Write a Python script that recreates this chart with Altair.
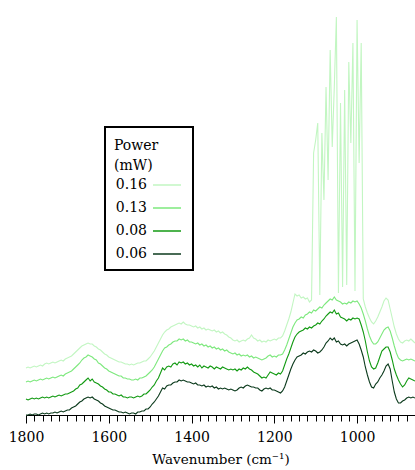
import altair as alt
import pandas as pd

# Raman spectra recorded at four laser powers, stacked with a vertical offset.
# Sampling grid: 1800 -> 860 cm-1 in 5 cm-1 steps (189 points).
wavenumber = list(range(1800, 859, -5))

power_labels = ["0.16", "0.13", "0.08", "0.06"]
line_colors = ["#c2f6c2", "#7de87d", "#129a12", "#0b3a1c"]

# Offset intensities (a.u.)
int_016 = [
    47, 48, 47, 48, 49, 48, 49, 50, 49, 51, 52, 51, 52, 53, 52, 53, 54, 55, 54, 56,
    57, 58, 59, 61, 63, 65, 67, 69, 70, 71, 72, 71, 71, 69, 68, 66, 65, 63, 61, 60,
    58, 57, 56, 55, 54, 53, 53, 52, 51, 51, 50, 51, 50, 51, 52, 52, 53, 54, 54, 56,
    58, 61, 64, 68, 72, 76, 80, 83, 85, 86, 88, 89, 90, 91, 92, 91, 93, 91, 90, 90,
    89, 88, 89, 87, 88, 86, 87, 85, 86, 85, 84, 85, 83, 84, 82, 83, 81, 80, 78, 77,
    75, 74, 75, 73, 74, 75, 74, 76, 77, 80, 77, 76, 74, 75, 73, 74, 73, 75, 74, 75,
    76, 75, 77, 77, 79, 84, 90, 96, 103, 112, 121, 119, 120, 117, 118, 116, 117, 113, 115, 262,
    275, 292, 120, 282, 215, 328, 235, 365, 268, 328, 398, 122, 312, 128, 325, 130, 353, 272, 372, 124,
    395, 252, 372, 116, 108, 102, 97, 93, 91, 94, 98, 103, 108, 114, 117, 115, 106, 97, 88, 81,
    76, 73, 72, 74, 75, 74, 76, 74, 72,
]
int_013 = [
    33, 34, 33, 34, 35, 34, 35, 36, 35, 36, 37, 36, 37, 38, 37, 38, 39, 40, 39, 41,
    42, 43, 44, 46, 48, 50, 52, 55, 57, 58, 60, 59, 58, 56, 55, 52, 51, 49, 47, 46,
    44, 43, 42, 41, 40, 39, 39, 37, 37, 36, 36, 35, 35, 36, 35, 37, 37, 38, 39, 41,
    43, 45, 48, 52, 56, 60, 64, 67, 68, 70, 71, 73, 74, 74, 76, 75, 76, 74, 75, 73,
    73, 72, 71, 72, 70, 71, 69, 70, 68, 69, 67, 68, 66, 67, 65, 66, 64, 65, 63, 62,
    61, 62, 60, 61, 59, 60, 59, 60, 58, 59, 57, 58, 57, 56, 55, 56, 57, 59, 60, 58,
    59, 58, 60, 60, 61, 65, 70, 76, 82, 88, 92, 95, 96, 98, 97, 100, 101, 103, 102, 105,
    104, 106, 108, 107, 110, 112, 114, 116, 115, 118, 115, 114, 113, 111, 112, 111, 113, 112, 114, 113,
    114, 111, 107, 101, 94, 86, 79, 74, 71, 71, 73, 77, 81, 85, 87, 88, 84, 77, 69, 62,
    57, 55, 54, 55, 56, 55, 56, 55, 54,
]
int_008 = [
    16, 15, 16, 17, 16, 17, 16, 17, 18, 17, 18, 17, 18, 19, 18, 19, 20, 19, 20, 21,
    21, 22, 23, 24, 26, 27, 30, 31, 33, 35, 37, 34, 36, 33, 32, 31, 29, 28, 26, 25,
    23, 23, 21, 21, 20, 19, 20, 18, 18, 17, 18, 18, 17, 18, 19, 18, 19, 21, 21, 23,
    25, 28, 30, 34, 37, 42, 47, 45, 48, 49, 48, 51, 52, 50, 53, 52, 53, 51, 52, 50,
    51, 49, 50, 48, 50, 47, 49, 48, 47, 49, 48, 46, 48, 47, 46, 48, 47, 46, 45, 46,
    45, 46, 44, 46, 45, 47, 46, 48, 46, 45, 43, 42, 41, 39, 37, 38, 37, 40, 43, 42,
    41, 40, 42, 41, 44, 50, 56, 61, 67, 73, 78, 81, 83, 84, 85, 87, 86, 88, 87, 89,
    90, 92, 91, 94, 96, 99, 101, 103, 102, 105, 101, 102, 98, 97, 96, 94, 96, 95, 97, 96,
    97, 96, 90, 83, 74, 63, 54, 48, 46, 47, 52, 58, 64, 66, 68, 68, 63, 55, 46, 40,
    35, 31, 28, 30, 34, 37, 36, 35, 34,
]
int_006 = [
    0, 0, 1, 0, 1, 1, 0, 1, 2, 1, 2, 1, 2, 2, 3, 2, 3, 4, 3, 4,
    5, 5, 7, 8, 9, 11, 13, 14, 16, 17, 18, 17, 18, 16, 15, 14, 12, 11, 9, 8,
    7, 6, 5, 5, 4, 3, 3, 2, 3, 2, 1, 2, 2, 1, 3, 3, 4, 4, 6, 6,
    8, 11, 13, 16, 19, 23, 27, 26, 29, 30, 30, 32, 33, 33, 35, 34, 35, 34, 33, 33,
    32, 31, 32, 30, 30, 29, 30, 28, 29, 28, 29, 27, 28, 26, 27, 26, 27, 26, 25, 26,
    25, 24, 25, 27, 28, 27, 29, 30, 29, 28, 28, 27, 27, 25, 24, 26, 27, 26, 27, 25,
    25, 24, 23, 22, 24, 28, 34, 40, 46, 51, 55, 58, 59, 60, 62, 61, 63, 64, 63, 65,
    64, 62, 63, 65, 68, 72, 74, 77, 75, 77, 73, 74, 71, 70, 71, 69, 71, 72, 73, 74,
    75, 71, 65, 58, 48, 40, 33, 28, 27, 31, 33, 37, 40, 44, 49, 51, 46, 34, 23, 16,
    12, 12, 14, 15, 17, 18, 17, 18, 17,
]

minor_ticks = list(range(1800, 859, -20))

frames = []
for label, values in zip(power_labels, [int_016, int_013, int_008, int_006]):
    frames.append(pd.DataFrame({"wavenumber": wavenumber, "intensity": values, "power": label}))
spectra = pd.concat(frames, ignore_index=True)

serif = "DejaVu Serif"

chart = (
    alt.Chart(spectra)
    .mark_line(strokeWidth=1.1)
    .encode(
        x=alt.X(
            "wavenumber:Q",
            scale=alt.Scale(domain=[1800, 860], nice=False, zero=False),
            axis=alt.Axis(
                values=minor_ticks,
                format="d",
                labelExpr="datum.value % 200 === 0 ? datum.label : ''",
                labelFlush=False,
                labelOverlap=False,
                tickSize={"condition": {"test": "datum.value % 200 === 0", "value": 8}, "value": 6},
                title="Wavenumber (cm⁻¹)",
                grid=False,
            ),
        ),
        y=alt.Y("intensity:Q", scale=alt.Scale(domain=[0, 415]), axis=None),
        color=alt.Color(
            "power:N",
            scale=alt.Scale(domain=power_labels, range=line_colors),
            legend=alt.Legend(
                title=["Power", "(mW)"],
                orient="none",
                legendX=79,
                legendY=127,
                symbolType="stroke",
                symbolSize=784,
                symbolStrokeWidth=1.5,
                symbolOffset=38,
                labelAlign="right",
                labelOffset={"expr": "-35"},
                rowPadding=1,
            ),
        ),
        order=alt.Order("wavenumber:Q", sort="descending"),
    )
    .properties(
        width=389,
        height=415,
        autosize=alt.AutoSizeParams(type="none"),
        padding={"left": 26, "top": 0, "right": 0, "bottom": 55},
    )
    .configure_view(stroke=None)
    .configure_axis(
        domainColor="black",
        domainWidth=1,
        tickColor="black",
        tickWidth=1,
        labelFont=serif,
        labelFontSize=14,
        labelColor="black",
        labelPadding=7,
        titleFont=serif,
        titleFontSize=13.5,
        titleFontWeight="normal",
        titleColor="black",
        titlePadding=8,
    )
    .configure_legend(
        titleFont=serif,
        titleFontSize=14,
        titleFontWeight="normal",
        titleColor="black",
        titleLineHeight=20,
        titleBaseline="line-top",
        labelFont=serif,
        labelFontSize=14,
        labelColor="black",
        strokeColor="black",
        strokeWidth=2,
        fillColor="white",
        padding=9,
        titlePadding={"expr": "0"},
    )
)

chart.save("out.html", embed_options={"renderer": "svg", "actions": False})
